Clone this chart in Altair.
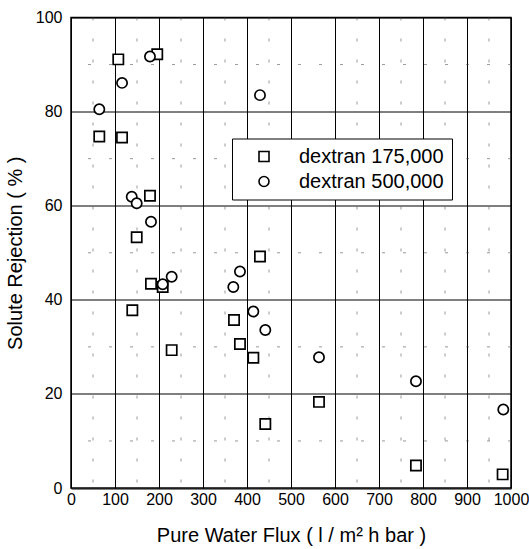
import altair as alt
import pandas as pd

# dextran 175,000 (squares)
sq_x = [107.5, 196, 64.3, 116, 179.5, 149.3, 181.8, 208.4, 139.4, 228.8, 429.5, 370.5, 384, 414.4, 563.6, 441.6, 784, 981]
sq_y = [91.1, 92.2, 74.7, 74.5, 62.1, 53.3, 43.4, 42.7, 37.8, 29.3, 49.2, 35.7, 30.6, 27.7, 18.3, 13.6, 4.8, 2.9]
# dextran 500,000 (circles)
ci_x = [179.5, 116, 64.3, 429.5, 138, 149.3, 181.8, 228.8, 208.4, 368.9, 384, 414.4, 441.6, 563.6, 784, 982.5]
ci_y = [91.7, 86.1, 80.5, 83.5, 61.9, 60.5, 56.6, 44.9, 43.3, 42.7, 46.0, 37.5, 33.6, 27.8, 22.7, 16.7]

series = ["dextran 175,000", "dextran 500,000"]
x_ticks = [0, 100, 200, 300, 400, 500, 600, 700, 800, 900, 1000]
y_ticks = [0, 20, 40, 60, 80, 100]
minor_x = [50, 150, 250, 350, 450, 650, 750, 850, 950]
minor_y = [10, 30, 50, 70, 90]

df = pd.DataFrame(
    {"flux": sq_x + ci_x,
     "rej": sq_y + ci_y,
     "series": [series[0]] * len(sq_x) + [series[1]] * len(ci_x)}
)

FONT = "Liberation Sans"
NARROW = "Liberation Sans Narrow, Liberation Sans"

xs = alt.Scale(domain=[0, 1000], nice=False)
ys = alt.Scale(domain=[0, 100], nice=False)

axis_common = dict(
    grid=True, gridColor="black", gridWidth=1, gridOpacity=1,
    ticks=False, domain=False, labelFlush=False,
    labelFont=NARROW, labelFontSize=16, labelColor="black",
    titleFont=FONT, titleFontSize=20, titleFontWeight="normal", titleColor="black",
)

minor_v = alt.Chart(pd.DataFrame({"v": minor_x})).mark_rule(
    color="#555", strokeWidth=1, strokeDash=[3, 18], opacity=0.6
).encode(x=alt.X("v:Q", scale=xs))
minor_h = alt.Chart(pd.DataFrame({"h": minor_y})).mark_rule(
    color="#555", strokeWidth=1, strokeDash=[3, 18], opacity=0.6
).encode(y=alt.Y("h:Q", scale=ys))

legend = alt.Legend(title=None, orient="none", legendX=161, legendY=121,
                    strokeColor="black", padding=8, fillColor="white",
                    labelFont=FONT, labelFontSize=20, labelColor="black",
                    symbolSize=100, symbolStrokeWidth=1.6, symbolFillColor="white",
                    symbolOffset=14, labelOffset=25, rowPadding=5)

points = alt.Chart(df).mark_point(
    filled=False, fill="white", fillOpacity=1, strokeWidth=1.7, size=105, opacity=1,
).encode(
    x=alt.X("flux:Q", scale=xs,
            axis=alt.Axis(values=x_ticks, format="d", title="Pure Water Flux ( l / m² h bar )",
                          labelPadding=3, titlePadding=18, **axis_common)),
    y=alt.Y("rej:Q", scale=ys,
            axis=alt.Axis(values=y_ticks, format="d", title="Solute Rejection ( % )",
                          labelPadding=9, titlePadding=10, **axis_common)),
    shape=alt.Shape("series:N",
                    scale=alt.Scale(domain=series, range=["square", "circle"]),
                    legend=legend),
    color=alt.Color("series:N",
                    scale=alt.Scale(domain=series, range=["black", "black"]),
                    legend=legend),
)

chart = (minor_v + minor_h + points).properties(
    width=440, height=470.5,
    autosize=alt.AutoSizeParams(type="none"),
    padding={"left": 71, "top": 17.5, "right": 18, "bottom": 61},
    background="white",
).configure_view(
    stroke="black", strokeWidth=1.5
)

chart.save("out.html", embed_options={"renderer": "svg", "actions": False})
